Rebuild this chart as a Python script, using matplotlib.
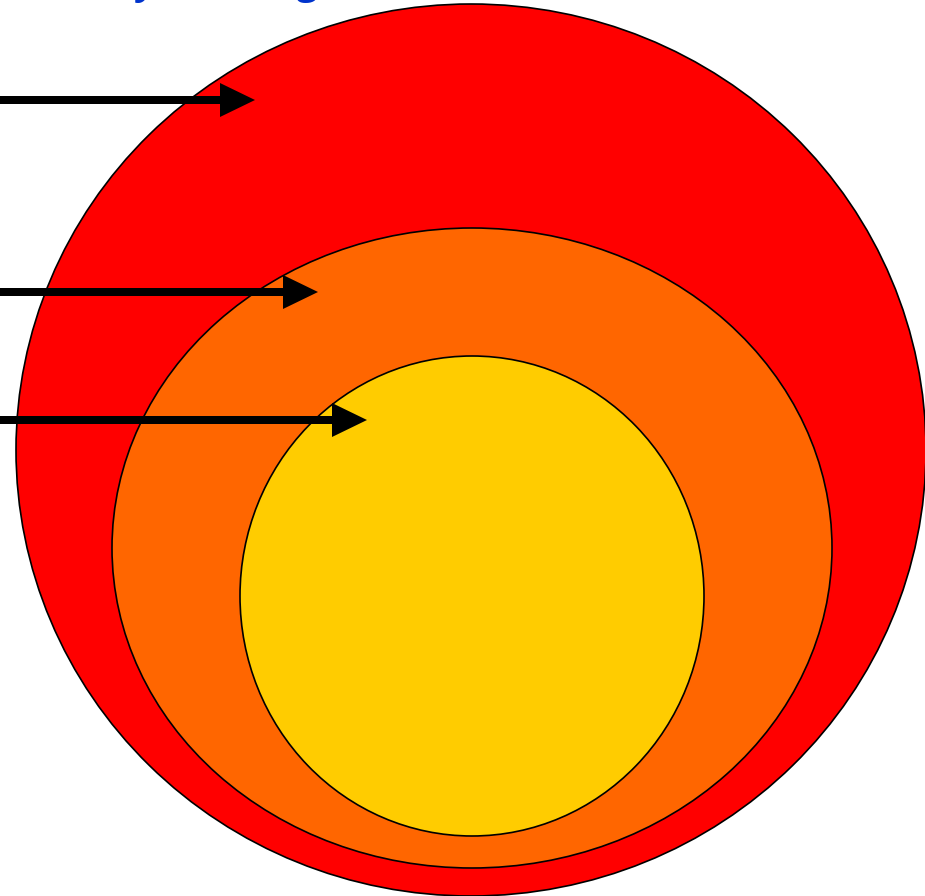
import matplotlib.pyplot as plt
from matplotlib.patches import Ellipse

# nested rings: centre x, centre y, width, height, colour
ring_cx = [471, 472, 472]
ring_cy = [450, 548, 596]
ring_w = [910, 720, 464]
ring_h = [892, 640, 480]
ring_col = ['#ff0000', '#ff6600', '#ffcc00']

# pointer arrows: y position and tip x
arrow_y = [100, 292, 420]
arrow_tip = [255, 318, 367]

title = 'Energy Efficiency Ranking'

fig = plt.figure(figsize=(9.25, 8.96), dpi=100)
ax = fig.add_axes([0, 0, 1, 1])
ax.set_xlim(0, 925)
ax.set_ylim(896, 0)
ax.axis('off')

for cx, cy, w, h, c in zip(ring_cx, ring_cy, ring_w, ring_h, ring_col):
    ax.add_patch(Ellipse((cx, cy), w, h, facecolor=c, edgecolor='black', lw=1.2))

for y, tip in zip(arrow_y, arrow_tip):
    ax.arrow(-5, y, tip + 5, 0, width=8, head_width=34, head_length=35,
             length_includes_head=True, facecolor='black', edgecolor='none')

ax.text(318, -6, title, fontsize=27, fontweight='bold', color='#0033cc',
        family='Open Sans', ha='right', va='baseline', clip_on=False)

fig.savefig('out.png', dpi=100)
